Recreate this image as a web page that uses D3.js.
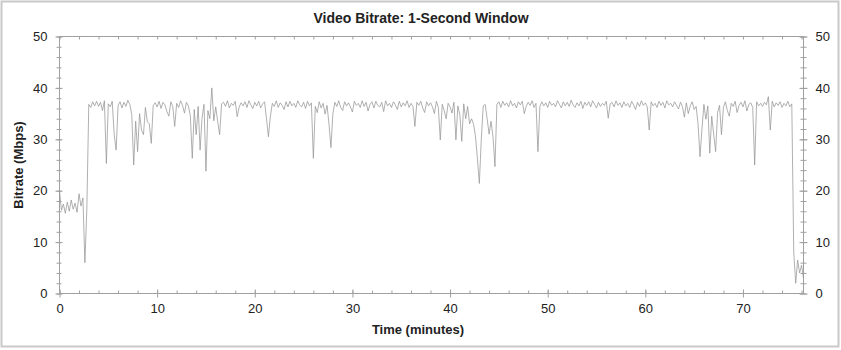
<!DOCTYPE html>
<html>
<head>
<meta charset="utf-8">
<script src="https://cdn.jsdelivr.net/npm/d3@7/dist/d3.min.js"></script>
<style>
  html, body { margin: 0; padding: 0; background: #ffffff; }
  svg { display: block; font-family: "Liberation Sans", Arial, sans-serif; }
</style>
</head>
<body>
<svg id="chart" width="841" height="350"></svg>
<script>
// ---- data ----
const chartTitle = "Video Bitrate: 1-Second Window";
const xLabel = "Time (minutes)";
const yLabel = "Bitrate (Mbps)";
const sampleStepMinutes = 0.2;      // one sample every 12 seconds
const xMaxMinutes = 76.2;
const yMax = 50;
const xMajorTicks = [0, 10, 20, 30, 40, 50, 60, 70];
const yMajorTicks = [0, 10, 20, 30, 40, 50];
const bitrateMbps = [
  20.0, 16.2, 17.4, 15.6, 17.8, 16.0, 18.2, 16.4, 17.6, 15.8,
  19.4, 17.0, 18.6, 6.0, 16.4, 36.8, 36.2, 37.3, 36.5, 37.4,
  36.4, 37.2, 35.6, 37.5, 25.3, 36.9, 36.3, 37.4, 31.0, 27.9,
  36.6, 37.3, 36.1, 37.2, 36.4, 37.6, 36.8, 34.8, 25.0, 33.5,
  27.6, 35.0, 31.8, 30.9, 36.2, 33.4, 33.0, 29.2, 36.6, 37.1,
  36.3, 37.4, 36.0, 37.2, 36.7, 35.4, 34.5, 37.3, 36.4, 32.5,
  37.0, 36.2, 37.5, 36.6, 35.1, 37.2, 36.5, 34.6, 26.3, 35.8,
  30.9, 36.4, 27.9, 34.2, 36.8, 23.8, 35.6, 34.0, 40.0, 33.6,
  36.3, 33.5, 30.9, 36.9, 37.2, 36.4, 37.5, 36.1, 37.0, 36.6,
  37.4, 34.4, 36.3, 37.1, 36.5, 37.3, 36.2, 37.5, 36.7, 36.0,
  37.2, 36.5, 37.4, 36.1, 36.9, 37.3, 34.0, 30.5, 34.5, 37.0,
  36.4, 37.5, 36.2, 37.1, 36.6, 35.8, 37.3, 36.3, 37.4, 36.5,
  37.0, 36.2, 37.5, 36.7, 36.3, 37.2, 36.0, 37.4, 36.5, 37.1,
  26.3, 36.4, 35.2, 37.3, 36.1, 37.0, 34.9, 36.6, 33.0, 28.4,
  35.0, 37.2, 36.4, 37.5, 36.2, 35.6, 37.3, 36.5, 37.1, 36.3,
  35.3, 37.4, 36.6, 37.0, 36.2, 37.5, 36.4, 37.2, 35.5, 36.8,
  37.3, 36.1, 37.4, 36.6, 36.3, 37.2, 35.4, 37.5, 36.5, 37.0,
  36.2, 37.3, 36.7, 35.8, 37.4, 36.3, 37.1, 36.5, 37.5, 36.2,
  37.0, 36.4, 32.5, 37.2, 36.6, 37.4, 36.1, 35.2, 37.3, 36.5,
  37.1, 36.3, 35.0, 37.4, 36.2, 29.9, 36.8, 35.6, 34.0, 37.0,
  36.3, 35.1, 37.2, 29.9, 36.5, 34.8, 29.6, 36.9, 34.0, 36.4,
  33.0, 34.0, 33.0, 30.7, 26.3, 21.4, 30.0, 36.5, 36.8, 34.0,
  31.0, 33.5, 30.5, 24.7, 36.8, 37.3, 36.2, 37.4, 36.6, 37.1,
  36.3, 37.5, 36.5, 37.0, 36.1, 37.3, 36.7, 37.4, 35.0, 36.4,
  37.2, 36.6, 37.5, 36.2, 37.0, 27.6, 36.4, 37.3, 36.5, 37.1,
  36.2, 37.4, 36.6, 37.0, 36.3, 37.5, 36.8, 36.1, 37.3, 36.5,
  37.2, 36.4, 37.6, 36.7, 36.2, 37.1, 36.5, 37.4, 36.0, 37.2,
  36.6, 37.3, 36.3, 37.5, 36.8, 36.1, 37.2, 36.4, 37.0, 36.6,
  37.4, 34.1, 36.9, 37.2, 36.3, 37.5, 36.6, 37.1, 36.2, 37.3,
  36.5, 37.0, 36.2, 37.4, 36.7, 35.8, 37.2, 36.4, 37.5, 36.6,
  37.1, 36.3, 31.8, 37.3, 36.5, 37.0, 36.2, 37.4, 36.6, 37.2,
  36.1, 37.5, 36.7, 37.0, 36.3, 37.3, 36.6, 35.9, 37.2, 36.4,
  34.3, 37.1, 35.0, 36.5, 37.3, 35.8, 36.4, 33.0, 26.6, 32.0,
  36.8, 33.9, 36.5, 27.3, 34.5, 31.0, 27.6, 35.2, 36.6, 30.9,
  36.2, 37.3, 35.6, 34.5, 37.0, 36.4, 37.4, 35.2, 36.6, 37.2,
  36.3, 37.5, 35.5, 36.8, 37.1, 36.2, 25.0, 37.3, 36.5, 37.0,
  36.4, 37.2, 36.7, 38.3, 31.8, 37.4, 36.3, 37.1, 36.6, 37.3,
  36.2, 37.0, 36.5, 37.4, 36.3, 36.9, 8.0, 2.0, 6.5, 4.0,
  5.5, 3.0
];

// ---- layout ----
const W = 841, H = 350;
const plot = { left: 59.5, right: 803.5, top: 36.5, bottom: 293.5 };
const svg = d3.select("#chart");

svg.append("rect")
  .attr("x", 1.5).attr("y", 1.5).attr("width", W - 4).attr("height", H - 5)
  .attr("fill", "#ffffff").attr("stroke", "#c9c9c9").attr("stroke-width", 2);

const x = d3.scaleLinear().domain([0, xMaxMinutes]).range([plot.left, plot.right]);
const y = d3.scaleLinear().domain([0, yMax]).range([plot.bottom, plot.top]);

const axisColor = "#a0a0a0";
const textColor = "#222222";
const xMinor = d3.range(0, xMaxMinutes, 2);
const yMinor = d3.range(0, yMax + 0.001, 2);

function styleAxis(g) {
  g.select(".domain").remove();
  g.selectAll("line").attr("stroke", axisColor);
  g.selectAll("text").attr("fill", textColor).attr("font-size", 13)
    .attr("font-family", "'Liberation Sans', Arial, sans-serif");
}

// frame lines
svg.append("rect")
  .attr("x", plot.left).attr("y", plot.top)
  .attr("width", plot.right - plot.left).attr("height", plot.bottom - plot.top)
  .attr("fill", "none").attr("stroke", axisColor).attr("stroke-width", 1);

// left axis (minor + major, crossing)
svg.append("g").attr("transform", `translate(${plot.left},0)`)
  .call(d3.axisLeft(y).tickValues(yMinor).tickSize(3).tickFormat(""))
  .call(styleAxis).call(g => g.selectAll("line").attr("x1", 2));
svg.append("g").attr("transform", `translate(${plot.left},0)`)
  .call(d3.axisLeft(y).tickValues(yMajorTicks).tickSize(4).tickPadding(8).tickSizeOuter(0))
  .call(styleAxis).call(g => g.selectAll("line").attr("x1", 3));

// right axis
svg.append("g").attr("transform", `translate(${plot.right},0)`)
  .call(d3.axisRight(y).tickValues(yMinor).tickSize(3).tickFormat(""))
  .call(styleAxis).call(g => g.selectAll("line").attr("x1", -3));
svg.append("g").attr("transform", `translate(${plot.right},0)`)
  .call(d3.axisRight(y).tickValues(yMajorTicks).tickSize(4).tickPadding(8).tickSizeOuter(0))
  .call(styleAxis).call(g => g.selectAll("line").attr("x1", -4));

// bottom axis
svg.append("g").attr("transform", `translate(0,${plot.bottom})`)
  .call(d3.axisBottom(x).tickValues(xMinor).tickSize(-3).tickFormat(""))
  .call(styleAxis);
svg.append("g").attr("transform", `translate(0,${plot.bottom})`)
  .call(d3.axisBottom(x).tickValues(xMajorTicks).tickSize(4).tickPadding(6).tickSizeOuter(0))
  .call(styleAxis).call(g => g.selectAll("line").attr("y1", -4));

// top axis
svg.append("g").attr("transform", `translate(0,${plot.top})`)
  .call(d3.axisTop(x).tickValues(xMinor).tickSize(-3).tickFormat(""))
  .call(styleAxis);

// data line
const line = d3.line()
  .x((d, i) => x(i * sampleStepMinutes))
  .y(d => y(d));
svg.append("path")
  .datum(bitrateMbps)
  .attr("d", line)
  .attr("fill", "none")
  .attr("stroke", "#959595")
  .attr("stroke-width", 0.75)
  .attr("stroke-linejoin", "round");

// titles
svg.append("text")
  .attr("x", 421).attr("y", 23)
  .attr("text-anchor", "middle")
  .attr("font-size", 14).attr("font-weight", "bold")
  .attr("fill", textColor)
  .text(chartTitle);

svg.append("text")
  .attr("x", 418).attr("y", 334)
  .attr("text-anchor", "middle")
  .attr("font-size", 13).attr("font-weight", "bold")
  .attr("fill", textColor)
  .text(xLabel);

svg.append("text")
  .attr("transform", `translate(23,165) rotate(-90)`)
  .attr("text-anchor", "middle")
  .attr("font-size", 13).attr("font-weight", "bold")
  .attr("fill", textColor)
  .text(yLabel);
</script>
</body>
</html>
